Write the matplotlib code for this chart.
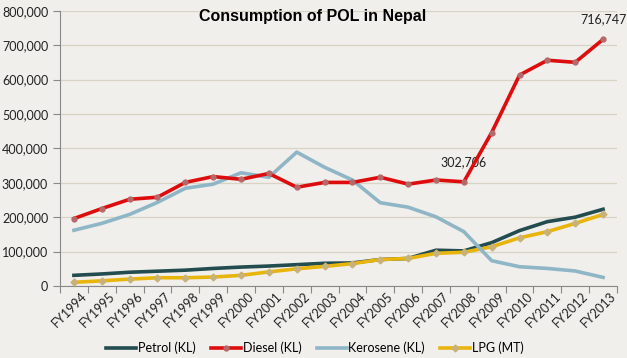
import numpy as np
import matplotlib
matplotlib.use('Agg')
import matplotlib.pyplot as plt
from matplotlib.ticker import FuncFormatter, FixedLocator

years = ['FY%d' % y for y in range(1994, 2014)]
petrol = [31000, 35000, 40000, 43000, 46000, 51000, 55000, 58000, 62000, 66000,
          67000, 77000, 80000, 104000, 102000, 126000, 161000, 187000, 200000, 223000]
diesel = [196000, 225000, 252000, 258000, 301000, 318000, 310000, 327000, 287000, 301000,
          301000, 316000, 296000, 308000, 302706, 446000, 613000, 656000, 650000, 716747]
kerosene = [162000, 182000, 208000, 243000, 284000, 296000, 329000, 316000, 389000, 345000,
            308000, 242000, 229000, 201000, 158000, 73500, 56000, 51000, 43600, 25000]
lpg = [10700, 15000, 20000, 24000, 24000, 26000, 31000, 41000, 50000, 57000,
       65000, 77000, 80000, 95000, 98000, 114000, 140000, 158000, 182000, 208000]

plt.rcParams['font.family'] = ['Lato', 'DejaVu Sans']
bg = '#f0efec'

fig = plt.figure(figsize=(6.27, 3.58), dpi=100, facecolor=bg)
ax = fig.add_axes([60/627, 1-286/358, 557/627, (286-10.7)/358], facecolor=bg)

x = np.arange(len(years))
ax.plot(x, petrol, color='#234c4f', lw=2.6, label='Petrol (KL)', zorder=3)
ax.plot(x, diesel, color='#dd0d0d', lw=2.6, marker='o', ms=3.5,
        mfc='#b46a6a', mec='#b46a6a', label='Diesel (KL)', zorder=5)
ax.plot(x, kerosene, color='#8fb6c6', lw=2.6, label='Kerosene (KL)', zorder=4)
ax.plot(x, lpg, color='#e8b50c', lw=2.6, marker='D', ms=3.5,
        mfc='#c9b278', mec='#c9b278', label='LPG (MT)', zorder=3)

ax.set_xlim(-0.5, len(years) - 0.5)
ax.set_ylim(0, 800000)
ax.set_yticks(np.arange(0, 800001, 100000))
ax.yaxis.set_major_formatter(FuncFormatter(lambda v, p: '{:,.0f}'.format(v)))
ax.xaxis.set_major_locator(FixedLocator(np.arange(-0.5, len(years), 1)))
ax.set_xticklabels([])
for i, lab in enumerate(years):
    ax.text(i + 0.25, -12000, lab, rotation=45, ha='right', va='top',
            rotation_mode='anchor', fontsize=9, color='#222222')
ax.tick_params(axis='x', length=5, color='#888888')
ax.tick_params(axis='y', length=5, color='#888888', labelsize=9, labelcolor='#222222')
ax.grid(axis='y', color='#d8d3c4', lw=0.9)
ax.set_axisbelow(True)
for s in ['top', 'right']:
    ax.spines[s].set_visible(False)
ax.spines['left'].set_color('#888888')
ax.spines['bottom'].set_color('#888888')

ax.annotate('302,706', (14, diesel[14]), xytext=(0, 10), textcoords='offset points',
            ha='center', va='bottom', fontsize=9, color='#222222')
ax.annotate('716,747', (19, diesel[19]), xytext=(0, 10), textcoords='offset points',
            ha='center', va='bottom', fontsize=9, color='#222222')

fig.text(313/627, 1-16/358, 'Consumption of POL in Nepal', ha='center', va='center',
         fontsize=11.5, fontweight='bold', family=['Liberation Sans', 'DejaVu Sans'])

fig.legend(loc='center', bbox_to_anchor=(315/627, 1-348/358), ncol=4, frameon=False,
           fontsize=9, handlelength=2.4, columnspacing=1.2, handletextpad=0.15)

fig.savefig('out.png', dpi=100, facecolor=bg)
